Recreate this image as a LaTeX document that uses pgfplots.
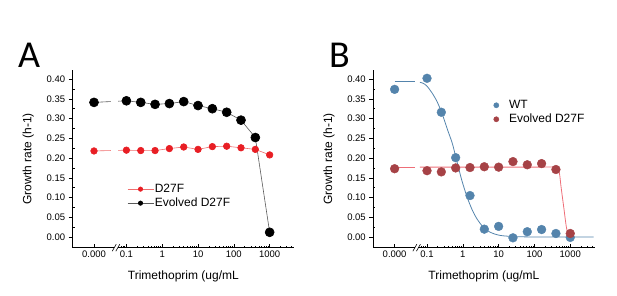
\documentclass[border=0pt]{standalone}
\usepackage{fontspec}
\setmainfont{Liberation Sans}
\newfontfamily\panelfont{Carlito}
\usepackage{pgfplots}
\pgfplotsset{compat=1.18}
\definecolor{redA}{RGB}{232,30,36}
\definecolor{redAline}{RGB}{240,110,110}
\definecolor{grayline}{RGB}{90,90,90}
\definecolor{blueB}{RGB}{84,132,172}
\definecolor{redB}{RGB}{166,66,70}
\definecolor{redBline}{RGB}{238,110,120}

\pgfplotsset{
 panel/.style={
  scale only axis, width=221.3bp, height=177.7bp, anchor=south west,
  xmin=-2.5, xmax=3.68, ymin=-0.027, ymax=0.423,
  axis x line*=bottom, axis y line*=left,
  axis line style={-, line width=0.6bp},
  clip=false,
  xtick={-1.905,-1,0,1,2,3},
  xticklabels={0.000,0.1,1,10,100,1000},
  minor xtick={-1.155,-1.097,-1.046,
   -0.699,-0.523,-0.398,-0.301,-0.222,-0.155,-0.097,-0.046,
   0.301,0.477,0.602,0.699,0.778,0.845,0.903,0.954,
   1.301,1.477,1.602,1.699,1.778,1.845,1.903,1.954,
   2.301,2.477,2.602,2.699,2.778,2.845,2.903,2.954,
   3.301,3.477,3.602},
  ytick={0,0.05,0.1,0.15,0.2,0.25,0.3,0.35,0.4},
  minor ytick={0.025,0.075,0.125,0.175,0.225,0.275,0.325,0.375},
  xtick align=inside, ytick align=outside,
  major tick length=4bp, minor tick length=2bp,
  every tick/.style={line width=0.6bp, black},
  minor y tick style={xshift=2bp},
  yticklabel style={/pgf/number format/.cd, fixed, fixed zerofill, precision=2},
  /pgf/number format/assume math mode=true,
  tick label style={font=\fontsize{9.5bp}{11bp}\selectfont},
  xlabel={Trimethoprim (ug/mL},
  ylabel={Growth rate (h-1)},
  x label style={at={(axis description cs:0.5,-0.163)}, anchor=center, font=\fontsize{12bp}{14bp}\selectfont},
  y label style={at={(axis description cs:-0.2006,0.5)}, anchor=center, font=\fontsize{12bp}{14bp}\selectfont},
 },
}

\begin{document}
\begin{tikzpicture}
\useasboundingbox (0,0) rectangle (617bp,296bp);
\node[anchor=base west, inner sep=0, font=\panelfont\fontsize{38bp}{40bp}\selectfont] at (18bp,228bp) {A};
\node[anchor=base west, inner sep=0, font=\panelfont\fontsize{38bp}{40bp}\selectfont] at (329bp,228bp) {B};

% Panel A
\begin{axis}[panel, at={(72.7bp,48.3bp)},
  legend style={at={(axis description cs:0.2454,0.37)}, anchor=north west, draw=none, fill=none,
    font=\fontsize{12bp}{14bp}\selectfont, inner sep=0pt, row sep=0pt,
    nodes={inner sep=1bp, text height=9bp, text depth=3bp}},
  legend cell align=left,
  legend image code/.code={\draw[mark repeat=2,mark phase=2,#1] plot coordinates {(0bp,0bp) (13bp,0bp) (26bp,0bp)};},
  legend image post style={mark size=2.2bp},
]
\addplot[redAline, line width=0.6bp, mark=*, mark size=3.3bp, mark options={fill=redA, draw=redA}] coordinates {
(-1.905,0.218) (-1,0.220) (-0.6,0.219) (-0.2,0.219) (0.2,0.224) (0.6,0.228)
(1.0,0.222) (1.4,0.229) (1.8,0.230) (2.2,0.226) (2.6,0.222) (3.0,0.208)};
\addlegendentry{D27F}
\addplot[grayline, line width=0.6bp, mark=*, mark size=4.5bp, mark options={fill=black, draw=black}] coordinates {
(-1.905,0.341) (-1,0.345) (-0.6,0.341) (-0.2,0.336) (0.2,0.338) (0.6,0.343)
(1.0,0.333) (1.4,0.325) (1.8,0.316) (2.2,0.296) (2.6,0.252) (3.0,0.012)};
\addlegendentry{Evolved D27F}
\fill[white] (axis cs:-1.42,0.325) rectangle (axis cs:-1.23,0.36);
\fill[white] (axis cs:-1.42,0.205) rectangle (axis cs:-1.23,0.232);
\fill[white] ([yshift=-2bp]axis cs:-1.34,-0.027) rectangle ([yshift=2bp]axis cs:-1.24,-0.027);
\draw[line width=0.6bp] ([xshift=-2bp,yshift=-3.5bp]axis cs:-1.34,-0.027) -- ([xshift=2bp,yshift=3.5bp]axis cs:-1.34,-0.027);
\draw[line width=0.6bp] ([xshift=-2bp,yshift=-3.5bp]axis cs:-1.24,-0.027) -- ([xshift=2bp,yshift=3.5bp]axis cs:-1.24,-0.027);
\end{axis}

% Panel B
\begin{axis}[panel, at={(373.3bp,48.3bp)},
  legend style={at={(axis description cs:0.54,0.842)}, anchor=north west, draw=none, fill=none,
    font=\fontsize{12bp}{14bp}\selectfont, inner sep=0pt, row sep=0pt,
    nodes={inner sep=1bp, text height=9bp, text depth=3bp}},
  legend cell align=left,
  legend image code/.code={\node[draw=none, fill=none, inner sep=0pt, minimum width=15bp, minimum height=1bp, anchor=west] at (0bp,0bp) {}; \draw[#1] plot coordinates {(3.5bp,0bp)};},
  legend image post style={mark size=2.6bp},
]
\addplot[blueB, line width=0.8bp, forget plot] coordinates {(-1.905,0.393) (-1.33,0.393)};
\addplot[blueB, line width=0.8bp, smooth, forget plot] coordinates {
(-1.20,0.392) (-1.10,0.389) (-1.00,0.382) (-0.86,0.365) (-0.72,0.343) (-0.58,0.313)
(-0.44,0.275) (-0.30,0.239) (-0.21,0.208) (-0.116,0.174) (-0.023,0.142) (0.116,0.102)
(0.256,0.070) (0.395,0.046) (0.58,0.024) (0.767,0.012) (1.05,0.004) (1.5,0.001) (2.2,0.0) (3.65,0.0)};
\addplot[redBline, line width=0.8bp, forget plot] coordinates {(-1.905,0.177) (-1.33,0.177)};
\addplot[redBline, line width=0.8bp, smooth, forget plot] coordinates {
(-1.20,0.177) (0.5,0.177) (2.0,0.177) (2.55,0.177) (2.64,0.174) (2.70,0.160) (2.743,0.127)
(2.816,0.077) (2.89,0.026) (2.94,0.009) (2.98,0.004)};
\addplot[only marks, mark=*, mark size=4.4bp, blueB, mark options={fill=blueB, draw=blueB}] coordinates {
(-1.905,0.374) (-1,0.402) (-0.6,0.316) (-0.2,0.201) (0.2,0.105) (0.6,0.020)
(1.0,0.027) (1.4,-0.002) (1.8,0.0135) (2.2,0.019) (2.6,0.009) (3.0,-0.001)};
\addlegendentry{WT}
\addplot[only marks, mark=*, mark size=4.4bp, redB, mark options={fill=redB, draw=redB}] coordinates {
(-1.905,0.173) (-1,0.168) (-0.6,0.165) (-0.2,0.175) (0.2,0.176) (0.6,0.178)
(1.0,0.177) (1.4,0.191) (1.8,0.183) (2.2,0.186) (2.6,0.171) (3.0,0.009)};
\addlegendentry{Evolved D27F}
\fill[white] ([yshift=-2bp]axis cs:-1.34,-0.027) rectangle ([yshift=2bp]axis cs:-1.24,-0.027);
\draw[line width=0.6bp] ([xshift=-2bp,yshift=-3.5bp]axis cs:-1.34,-0.027) -- ([xshift=2bp,yshift=3.5bp]axis cs:-1.34,-0.027);
\draw[line width=0.6bp] ([xshift=-2bp,yshift=-3.5bp]axis cs:-1.24,-0.027) -- ([xshift=2bp,yshift=3.5bp]axis cs:-1.24,-0.027);
\end{axis}
\end{tikzpicture}
\end{document}
